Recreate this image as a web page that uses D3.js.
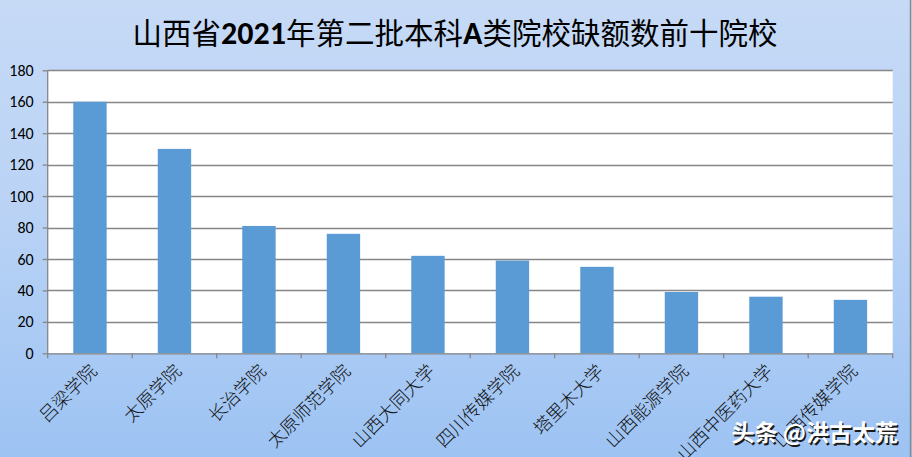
<!DOCTYPE html>
<html><head><meta charset="utf-8">
<script src="https://cdn.jsdelivr.net/npm/d3@7"></script>
<style>html,body{margin:0;padding:0;overflow:hidden;}svg{display:block;}</style>
</head><body>
<script>
const categories = ["吕梁学院","太原学院","长治学院","太原师范学院","山西大同大学","四川传媒学院","塔里木大学","山西能源学院","山西中医药大学","山西传媒学院"];
const values = [160,130,81,76,62,59,55,39,36,34];
const yTicks = [0,20,40,60,80,100,120,140,160,180];
const titleParts = [["山西省",false],["2021",true],["年第二批本科",false],["A",true],["类院校缺额数前十院校",false]];
const watermark = "头条 @洪古太荒";

(function(){
const W = 912, H = 457;
const svg = d3.select("body").append("svg").attr("width", W).attr("height", H);
const defs = svg.append("defs");
const g = defs.append("linearGradient").attr("id","bg").attr("x1",0).attr("y1",0).attr("x2",0).attr("y2",1);
g.append("stop").attr("offset","0%").attr("stop-color","#c6daf6");
g.append("stop").attr("offset","45%").attr("stop-color","#bad3f5");
g.append("stop").attr("offset","100%").attr("stop-color","#9dc3f3");
svg.append("rect").attr("width",W).attr("height",H).attr("fill","url(#bg)");
svg.append("line").attr("x1",910.5).attr("x2",910.5).attr("y1",0).attr("y2",H).attr("stroke","#8a8a8a").attr("stroke-width",1.5);

const pl = 47.7, pr = 892.7, pt = 70.3, pb = 353.3;
const x = d3.scaleBand().domain(categories).range([pl,pr]).paddingInner(0).paddingOuter(0);
const y = d3.scaleLinear().domain([0,180]).range([pb,pt]);

svg.append("rect").attr("x",pl).attr("y",pt).attr("width",pr-pl).attr("height",pb-pt).attr("fill","#ffffff");

svg.append("g").selectAll("line").data(yTicks.filter(d=>d>0)).join("line")
  .attr("x1",pl).attr("x2",pr).attr("y1",d=>Math.round(y(d))+0.5).attr("y2",d=>Math.round(y(d))+0.5)
  .attr("stroke","#868686").attr("stroke-width",1.3);

const bw = x.bandwidth()*0.395;
svg.append("g").selectAll("rect").data(values).join("rect")
  .attr("x",(d,i)=>x(categories[i])+x.bandwidth()/2-bw/2)
  .attr("y",d=>y(d)).attr("width",bw).attr("height",d=>pb-y(d))
  .attr("fill","#5b9bd5");

const yAxis = d3.axisLeft(y).tickValues(yTicks).tickSize(5).tickPadding(9);
const ya = svg.append("g").attr("transform",`translate(${pl},0)`).call(yAxis);
ya.select(".domain").attr("stroke","#868686").attr("stroke-width",1.3).attr("d",`M0,${pt}V${pb}`);
ya.selectAll(".tick line").attr("stroke","#868686").attr("stroke-width",1.3);
ya.selectAll("text").attr("font-family","Carlito, 'Liberation Sans', Arial, sans-serif").attr("font-size",16).attr("fill","#000");

const xa = svg.append("g").attr("transform",`translate(0,${pb})`);
xa.append("line").attr("x1",pl).attr("x2",pr).attr("y1",0.5).attr("y2",0.5).attr("stroke","#868686").attr("stroke-width",1.3);
const bounds = categories.map(c=>x(c)).concat([pr]);
xa.selectAll("line.tk").data(bounds).join("line").attr("class","tk")
  .attr("x1",d=>d).attr("x2",d=>d).attr("y1",0).attr("y2",5).attr("stroke","#868686").attr("stroke-width",1.3);
xa.selectAll("text").data(categories).join("text")
  .attr("transform",d=>`translate(${x(d)+x.bandwidth()/2+8},${19}) rotate(-45)`)
  .attr("text-anchor","end")
  .attr("font-family","'Noto Sans CJK SC', sans-serif").attr("font-weight",300)
  .attr("font-size",18).attr("fill","#111")
  .text(d=>d);

const t = svg.append("text").attr("x",455).attr("y",44).attr("text-anchor","middle")
  .attr("font-family","'Noto Sans CJK SC', sans-serif").attr("font-size",29.5).attr("fill","#000");
t.selectAll("tspan").data(titleParts).join("tspan")
  .attr("font-weight",d=>d[1]?700:400)
  .attr("font-family",d=>d[1]?"Carlito, 'Liberation Sans', sans-serif":"'Noto Sans CJK SC', sans-serif")
  .attr("font-size",d=>d[1]?32:29.5)
  .text(d=>d[0]);

const wm = svg.append("g");
wm.append("text").attr("x",898).attr("y",441).attr("text-anchor","end")
  .attr("font-family","'Noto Sans CJK SC', sans-serif").attr("font-size",23).attr("font-weight",700)
  .attr("fill","#1a1a1a").attr("transform","translate(1.5,1.5)").text(watermark);
wm.append("text").attr("x",898).attr("y",441).attr("text-anchor","end")
  .attr("font-family","'Noto Sans CJK SC', sans-serif").attr("font-size",23).attr("font-weight",700)
  .attr("fill","#ffffff").text(watermark);
})();
</script>
</body></html>
